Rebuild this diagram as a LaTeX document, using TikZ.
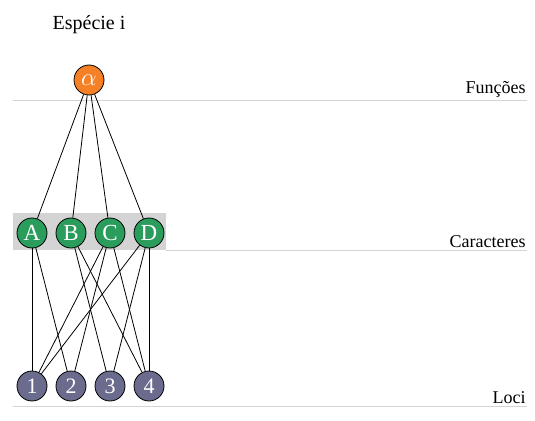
\documentclass[tikz,border=0pt]{standalone}
\usepackage{fontspec}
\setmainfont{Liberation Serif}
\definecolor{laranja}{HTML}{F58025}
\definecolor{verde}{HTML}{2A9D5C}
\definecolor{roxo}{HTML}{6B6B8E}
\definecolor{cinza}{HTML}{D4D4D4}
\tikzset{
  no/.style={circle,draw=black,line width=0.8pt,minimum size=30pt,inner sep=0pt,text=white},
  fun/.style={no,fill=laranja,font=\fontsize{25}{25}\selectfont},
  car/.style={no,fill=verde,font=\fontsize{23}{23}\selectfont},
  loc/.style={no,fill=roxo,font=\fontsize{22}{22}\selectfont},
  nivel/.style={draw=cinza,line width=1pt},
  rotulo/.style={anchor=south east,inner sep=1pt,font=\fontsize{18}{18}\selectfont}
}
\begin{document}
\begin{tikzpicture}[x=1pt,y=-1pt,line width=0.8pt]
  \useasboundingbox (0,0) rectangle (535,420);
  % niveis
  \fill[cinza] (13,213) rectangle (166,250);
  \draw[nivel] (13,100) -- (527,100); \node[rotulo] (tfun) at (527,99){Funções};
  \draw[nivel] (166,250) -- (527,250); \node[rotulo] (tcar) at (527,249){Caracteres};
  \draw[nivel] (13,406) -- (527,406); \node[rotulo] (tloc) at (527,405){Loci};
  \node[font=\fontsize{20}{20}\selectfont] (esp) at (89,25){Espécie i};
  % funcao
  \node[fun] (al) at (89,80){$\alpha$};
  % caracteres
  \node[car] (A) at (32,233){A};
  \node[car] (B) at (71,233){B};
  \node[car] (C) at (110,233){C};
  \node[car] (D) at (149,233){D};
  % loci
  \node[loc] (l1) at (32,386){1};
  \node[loc] (l2) at (71,386){2};
  \node[loc] (l3) at (110,386){3};
  \node[loc] (l4) at (149,386){4};
  % ligacoes
  \draw (al) -- (A); \draw (al) -- (B); \draw (al) -- (C); \draw (al) -- (D);
  \draw (A) -- (l1); \draw (A) -- (l2);
  \draw (B) -- (l3); \draw (B) -- (l4);
  \draw (C) -- (l1); \draw (C) -- (l2); \draw (C) -- (l4);
  \draw (D) -- (l1); \draw (D) -- (l3); \draw (D) -- (l4);
\end{tikzpicture}
\end{document}
